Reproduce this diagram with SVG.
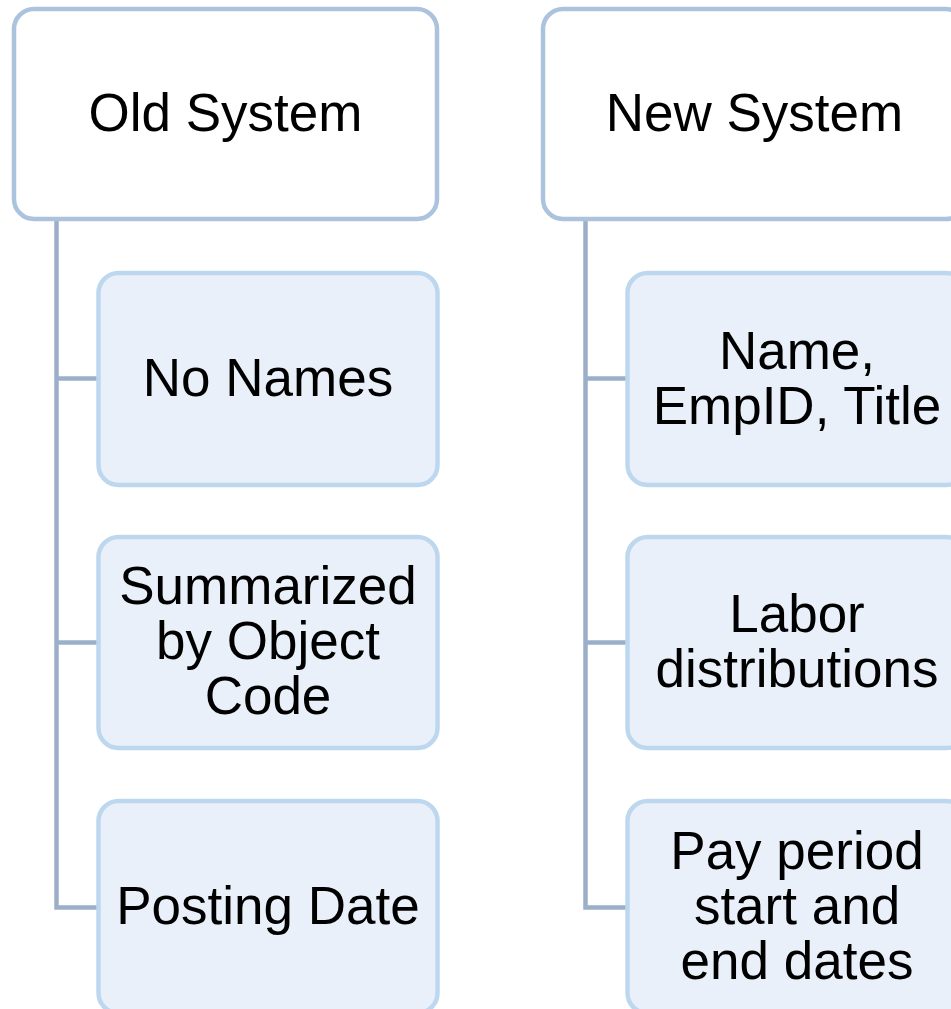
<svg xmlns="http://www.w3.org/2000/svg" width="951" height="1009" viewBox="0 0 951 1009">
<style>
.hdr{fill:#ffffff;stroke:#abc3dc;stroke-width:4.5}
.child{fill:#e9f0fa;stroke:#bdd7ef;stroke-width:4.5}
.conn{fill:none;stroke:#9bb0c8;stroke-width:4.5}
text{font-family:"Liberation Sans",Arial,sans-serif;font-size:53px;fill:#000000;text-anchor:middle}
</style>
<rect width="951" height="1009" fill="#ffffff"/>
<g id="connectors">
<path class="conn" d="M56.5 219 V907.5 H98.5"/>
<path class="conn" d="M56.5 378.5 H98.5"/>
<path class="conn" d="M56.5 642.5 H98.5"/>
<path class="conn" d="M585.5 219 V907.5 H627.5"/>
<path class="conn" d="M585.5 378.5 H627.5"/>
<path class="conn" d="M585.5 642.5 H627.5"/>
</g>
<g id="old-system">
<rect class="hdr" x="14" y="9" width="423" height="210" rx="20"/>
<text x="225.5" y="131">Old System</text>
</g>
<g id="no-names">
<rect class="child" x="98.5" y="273" width="339" height="212" rx="20"/>
<text x="268" y="396">No Names</text>
</g>
<g id="summarized">
<rect class="child" x="98.5" y="537" width="339" height="211" rx="20"/>
<text x="268" y="604">Summarized</text>
<text x="268" y="659">by Object</text>
<text x="268" y="714">Code</text>
</g>
<g id="posting-date">
<rect class="child" x="98.5" y="801" width="339" height="212" rx="20"/>
<text x="268" y="924">Posting Date</text>
</g>
<g id="new-system">
<rect class="hdr" x="543" y="9" width="423" height="210" rx="20"/>
<text x="754.5" y="131">New System</text>
</g>
<g id="name-empid">
<rect class="child" x="627.5" y="273" width="339" height="212" rx="20"/>
<text x="797" y="369">Name,</text>
<text x="797" y="424">EmpID, Title</text>
</g>
<g id="labor">
<rect class="child" x="627.5" y="537" width="339" height="211" rx="20"/>
<text x="797" y="632">Labor</text>
<text x="797" y="687">distributions</text>
</g>
<g id="pay-period">
<rect class="child" x="627.5" y="801" width="339" height="212" rx="20"/>
<text x="797" y="869">Pay period</text>
<text x="797" y="924">start and</text>
<text x="797" y="979">end dates</text>
</g>
</svg>
